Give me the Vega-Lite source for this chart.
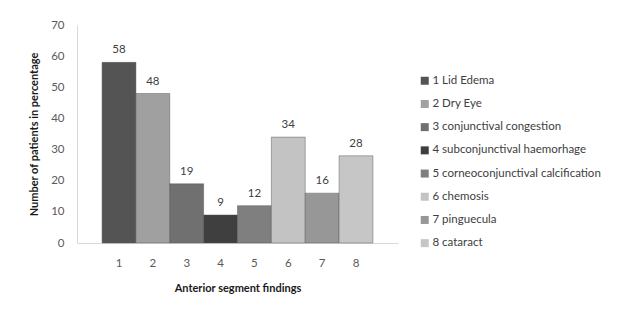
{
  "$schema": "https://vega.github.io/schema/vega-lite/v6.json",
  "autosize": {"type": "none"},
  "width": 321,
  "height": 218,
  "padding": {"left": 77, "top": 25, "right": 220, "bottom": 67},
  "background": "white",
  "config": {
    "view": {"stroke": null},
    "font": "Lato",
    "axis": {"labelFont": "Lato", "titleFont": "Lato"}
  },
  "data": {
    "values": [
      {"finding": "1", "label": "1 Lid Edema", "value": 58},
      {"finding": "2", "label": "2 Dry Eye", "value": 48},
      {"finding": "3", "label": "3 conjunctival congestion", "value": 19},
      {"finding": "4", "label": "4 subconjunctival haemorhage", "value": 9},
      {"finding": "5", "label": "5 corneoconjunctival calcification", "value": 12},
      {"finding": "6", "label": "6 chemosis", "value": 34},
      {"finding": "7", "label": "7 pinguecula", "value": 16},
      {"finding": "8", "label": "8 cataract", "value": 28}
    ]
  },
  "encoding": {
    "x": {
      "field": "finding",
      "type": "ordinal",
      "scale": {"paddingInner": 0, "paddingOuter": 0.74},
      "axis": {
        "title": "Anterior segment findings",
        "labelAngle": 0,
        "ticks": false,
        "labelPadding": 14,
        "labelFontSize": 11.5,
        "labelColor": "#595959",
        "domainColor": "#d9d9d9",
        "titleFontSize": 11,
        "titleFontWeight": "bold",
        "titleColor": "#1a1a1a",
        "titlePadding": 14
      }
    },
    "y": {
      "field": "value",
      "type": "quantitative",
      "scale": {"domain": [0, 70]},
      "axis": {
        "title": "Number of patients in percentage",
        "values": [0, 10, 20, 30, 40, 50, 60, 70],
        "grid": false,
        "ticks": false,
        "labelPadding": 13,
        "labelFontSize": 11.5,
        "labelColor": "#595959",
        "domainColor": "#d9d9d9",
        "titleFontSize": 11,
        "titleFontWeight": "bold",
        "titleColor": "#1a1a1a",
        "titlePadding": 11
      }
    }
  },
  "layer": [
    {
      "mark": {"type": "bar", "stroke": "#555555", "strokeOpacity": 0.45, "strokeWidth": 1},
      "encoding": {
        "color": {
          "field": "label",
          "type": "nominal",
          "sort": ["1 Lid Edema", "2 Dry Eye", "3 conjunctival congestion", "4 subconjunctival haemorhage", "5 corneoconjunctival calcification", "6 chemosis", "7 pinguecula", "8 cataract"],
          "scale": {
            "domain": ["1 Lid Edema", "2 Dry Eye", "3 conjunctival congestion", "4 subconjunctival haemorhage", "5 corneoconjunctival calcification", "6 chemosis", "7 pinguecula", "8 cataract"],
            "range": ["#545454", "#a0a0a0", "#707070", "#3f3f3f", "#7f7f7f", "#c3c3c3", "#979797", "#c6c6c6"]
          },
          "legend": {
            "title": null,
            "orient": "none",
            "legendX": 342,
            "legendY": 50,
            "symbolType": "square",
            "symbolSize": 64,
            "symbolStrokeWidth": 0,
            "labelFont": "Lato",
            "labelFontSize": 11.5,
            "labelColor": "#404040",
            "labelOffset": 2,
            "labelLimit": 400,
            "rowPadding": 10.2
          }
        }
      }
    },
    {
      "mark": {"type": "text", "dy": -12, "fontSize": 11.5, "color": "#404040", "font": "Lato"},
      "encoding": {
        "text": {"field": "value", "type": "quantitative"}
      }
    }
  ]
}
